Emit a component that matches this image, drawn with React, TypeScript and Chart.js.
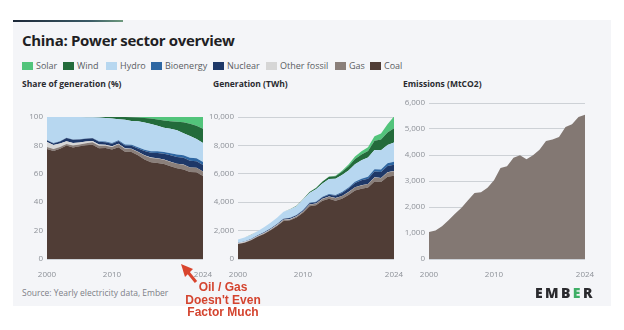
import React, { useEffect, useRef } from "react";
import Chart from "chart.js/auto";

const years = ["2000","2001","2002","2003","2004","2005","2006","2007","2008","2009","2010","2011","2012","2013","2014","2015","2016","2017","2018","2019","2020","2021","2022","2023","2024"];
const shownYears = ["2000", "2010", "2024"];

// Generation, TWh
const coal = [1060,1150,1320,1560,1760,2030,2330,2680,2730,2930,3250,3720,3780,4110,4250,4110,4240,4500,4830,4950,5030,5460,5420,5800,5870];
const gas = [20,20,20,20,30,30,40,60,60,60,77,100,110,116,133,167,188,203,215,233,247,287,271,300,310];
const otherFossil = [46,44,42,40,40,38,36,30,28,24,20,18,16,14,12,12,12,10,10,10,10,10,10,10,10];
const nuclear = [17,17,25,43,50,53,55,62,68,70,74,86,97,112,133,171,213,248,295,348,366,408,418,435,451];
const bioenergy = [2,3,3,4,5,5,8,10,14,20,25,31,34,38,45,53,65,80,91,112,136,164,182,197,210];
const hydro = [222,277,288,284,354,397,436,485,585,616,722,699,872,920,1064,1130,1193,1194,1232,1302,1355,1340,1352,1285,1355];
const wind = [1,1,1,1,1,2,4,6,13,28,45,70,96,141,156,186,241,295,366,406,467,656,762,886,997];
const solar = [0,0,0,0,0,0,0,0,0,0,1,3,4,8,23,39,67,118,177,224,261,327,428,584,834];

// Emissions, MtCO2
const emissions = [1040,1100,1256,1487,1744,1974,2256,2538,2564,2744,3026,3500,3564,3897,3987,3833,3987,4205,4538,4600,4692,5077,5180,5460,5551];

const shareTicks = [0, 20, 40, 60, 80, 100];
const genTicks = [0, 2000, 4000, 6000, 8000, 10000];
const emTicks = [0, 1000, 2000, 3000, 4000, 5000, 6000];

const seriesNames = ["Coal", "Gas", "Other fossil", "Nuclear", "Bioenergy", "Hydro", "Wind", "Solar"];
const seriesData = [coal, gas, otherFossil, nuclear, bioenergy, hydro, wind, solar];
const seriesColors = ["#503d36", "#8a7f7a", "#d6d6d6", "#1e3868", "#2e67a3", "#b7d7f0", "#236b3b", "#52c47b"];
const legendOrder = ["Solar", "Wind", "Hydro", "Bioenergy", "Nuclear", "Other fossil", "Gas", "Coal"];
const legendX = [22, 63, 106, 151, 213, 266, 335, 370];
const emissionsColor = "#837873";

const FONT = "'Open Sans', 'DejaVu Sans', sans-serif";
const TICK_COLOR = "#8d9198";
const GRID_COLOR = "#cdd1d6";

function xScale() {
  return {
    type: "category",
    offset: false,
    grid: { display: false },
    border: { display: false },
    ticks: {
      autoSkip: false,
      maxRotation: 0,
      minRotation: 0,
      padding: 3,
      color: TICK_COLOR,
      font: { family: FONT, size: 8 },
      callback: (_v: any, i: number) => (shownYears.includes(years[i]) ? years[i] : ""),
    },
    afterFit: (s: any) => { s.height = 18; },
  };
}

function yScale(ticks: number[], width: number, stacked: boolean) {
  return {
    stacked,
    min: 0,
    max: ticks[ticks.length - 1],
    border: { display: false },
    grid: { color: GRID_COLOR, drawTicks: false, lineWidth: 1 },
    afterBuildTicks: (s: any) => { s.ticks = ticks.map((v) => ({ value: v })); },
    ticks: {
      padding: 4,
      color: TICK_COLOR,
      font: { family: FONT, size: 8 },
      callback: (v: any) => Number(v).toLocaleString("en-US"),
    },
    afterFit: (s: any) => { s.width = width; },
  };
}

function stackedDatasets(values: number[][]) {
  return values.map((d, i) => ({
    label: seriesNames[i],
    data: d,
    backgroundColor: seriesColors[i],
    borderColor: seriesColors[i],
    borderWidth: 0,
    pointRadius: 0,
    tension: 0,
    fill: i === 0 ? "origin" : "-1",
  }));
}

function useChart(ref: React.RefObject<HTMLCanvasElement>, build: () => any) {
  useEffect(() => {
    if (!ref.current) return;
    const chart = new Chart(ref.current, build());
    return () => chart.destroy();
  }, []);
}

const baseOptions = (scales: any) => ({
  type: "line",
  options: {
    responsive: false,
    animation: false,
    devicePixelRatio: 1,
    layout: { padding: { top: 10, right: 14, bottom: 0, left: 0 } },
    plugins: { legend: { display: false }, tooltip: { enabled: false } },
    scales,
  },
});

export default function App() {
  const c1 = useRef<HTMLCanvasElement>(null);
  const c2 = useRef<HTMLCanvasElement>(null);
  const c3 = useRef<HTMLCanvasElement>(null);

  useChart(c1, () => {
    const totals = years.map((_, i) => seriesData.reduce((a, s) => a + s[i], 0));
    const shares = seriesData.map((s) => s.map((v, i) => (v / totals[i]) * 100));
    const cfg: any = baseOptions({ x: xScale(), y: yScale(shareTicks, 32, true) });
    cfg.data = { labels: years, datasets: stackedDatasets(shares) };
    return cfg;
  });
  useChart(c2, () => {
    const cfg: any = baseOptions({ x: xScale(), y: yScale(genTicks, 36, true) });
    cfg.data = { labels: years, datasets: stackedDatasets(seriesData) };
    return cfg;
  });
  useChart(c3, () => {
    const cfg: any = baseOptions({ x: xScale(), y: yScale(emTicks, 36, false) });
    cfg.data = {
      labels: years,
      datasets: [{
        label: "Emissions",
        data: emissions,
        backgroundColor: emissionsColor,
        borderColor: emissionsColor,
        borderWidth: 0,
        pointRadius: 0,
        tension: 0,
        fill: "origin",
      }],
    };
    return cfg;
  });

  const abs = (l: number, t: number, extra: any = {}) => ({ position: "absolute" as const, left: l, top: t, ...extra });

  return (
    <div style={{ position: "absolute", left: 0, top: 0, width: 624, height: 330, background: "#ffffff", overflow: "hidden", fontFamily: FONT }}>
      <div style={abs(13, 20, { width: 598, height: 286, background: "#f4f5f8" })} />
      <div style={abs(13, 20, { width: 110, height: 2, background: "linear-gradient(90deg, #1c2838, #3a5a66 70%, #6e9a7e)" })} />
      <div style={abs(22, 30, { fontSize: 15, fontWeight: 700, color: "#1f1f24", whiteSpace: "nowrap", letterSpacing: -0.3 })}>China: Power sector overview</div>

      {legendOrder.map((name, i) => {
        const idx = seriesNames.indexOf(name);
        return (
          <div key={name} style={abs(legendX[i], 59, { display: "flex", alignItems: "center", whiteSpace: "nowrap" })}>
            <span style={{ display: "inline-block", width: 11, height: 8, background: seriesColors[idx], marginRight: 3 }} />
            <span style={{ fontSize: 9, color: "#5a5d63" }}>{name}</span>
          </div>
        );
      })}

      <div style={abs(22, 78, { fontSize: 8.5, fontWeight: 700, color: "#2a2b30", whiteSpace: "nowrap" })}>Share of generation (%)</div>
      <div style={abs(213, 78, { fontSize: 8.5, fontWeight: 700, color: "#2a2b30", whiteSpace: "nowrap" })}>Generation (TWh)</div>
      <div style={abs(403, 78, { fontSize: 8.5, fontWeight: 700, color: "#2a2b30", whiteSpace: "nowrap" })}>Emissions (MtCO2)</div>

      <canvas ref={c1} width={202} height={170} style={abs(15, 107, { width: 202, height: 170 })} />
      <canvas ref={c2} width={206} height={170} style={abs(202, 107, { width: 206, height: 170 })} />
      <canvas ref={c3} width={206} height={184} style={abs(393, 93, { width: 206, height: 184 })} />

      <div style={abs(22, 287, { fontSize: 8.5, color: "#7d8087", whiteSpace: "nowrap" })}>Source: Yearly electricity data, Ember</div>
      <div style={abs(535, 283, { fontSize: 14, fontWeight: 800, color: "#2a2a2e", letterSpacing: 2.4, whiteSpace: "nowrap" })}>
        EMB<span style={{ color: "#3fae66" }}>E</span>R
      </div>

      <svg width={624} height={330} style={abs(0, 0, { pointerEvents: "none" })}>
        <line x1={196} y1={282} x2={187} y2={271} stroke="#d9452e" strokeWidth={3} />
        <polygon points="181,264 193,269 185,277" fill="#d9452e" />
      </svg>
      <div style={abs(173, 281, { width: 100, textAlign: "center", fontFamily: "'Liberation Sans', Arial, sans-serif", fontWeight: 700, fontSize: 12, lineHeight: "12.5px", color: "#d4442f" })}>
        Oil / Gas<br />Doesn't Even<br />Factor Much
      </div>
    </div>
  );
}
